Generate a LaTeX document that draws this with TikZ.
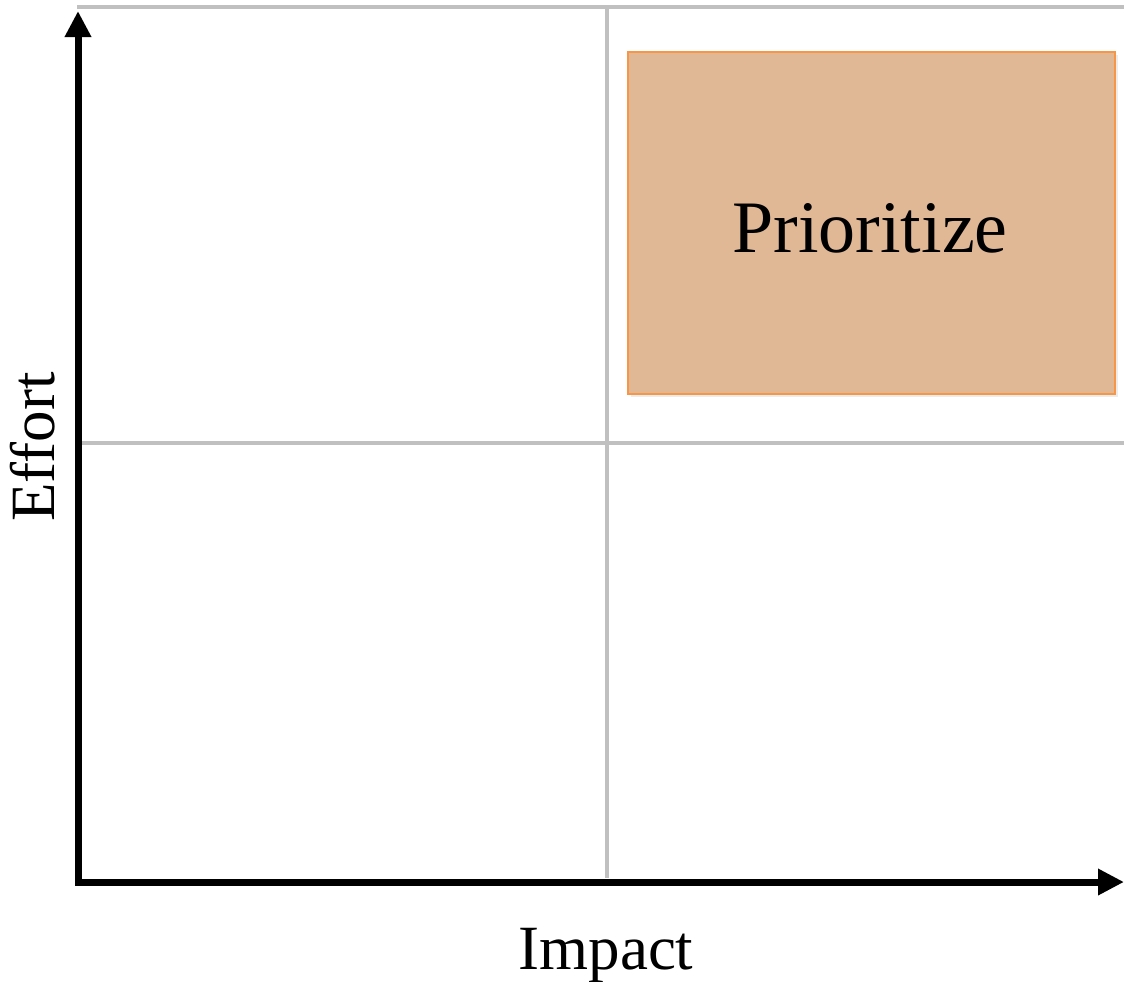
\documentclass[tikz,border=0pt]{standalone}
\usepackage{fontspec}
\setmainfont{Liberation Serif}
\usetikzlibrary{arrows.meta,shadows}

\definecolor{gridgray}{RGB}{192,192,192}
\definecolor{boxfill}{RGB}{225,184,150}
\definecolor{boxline}{RGB}{247,150,70}

\tikzset{
	gridline/.style={draw=gridgray, line width=2pt},
	axis/.style={draw=black, line width=3.5pt, -{Triangle[length=13pt, width=12.5pt]}},
	axislabel/.style={font=\fontsize{31.5}{36}\selectfont},
	quadbox/.style={draw=boxline, fill=boxfill, line width=0.8pt, minimum width=243.5pt, minimum height=171pt, anchor=north west, inner sep=0pt,
		drop shadow={opacity=0.15, shadow xshift=1.5pt, shadow yshift=-1.5pt}}
}

\begin{document}
\begin{tikzpicture}[x=0.5pt, y=-0.5pt]
	\useasboundingbox (0,0) rectangle (1124,981);
	% quadrant grid
	\coordinate (topleft) at (77,7);
	\coordinate (topright) at (1124,7);
	\coordinate (midtop) at (607,7);
	\coordinate (midbottom) at (607,878);
	\coordinate (midleft) at (80,443);
	\coordinate (midright) at (1124,443);
	\draw [gridline] (topleft) -- (topright);
	\draw [gridline] (midtop) -- (midbottom);
	\draw [gridline] (midleft) -- (midright);
	% highlighted quadrant
	\node [quadbox] (prio) at (627,51) {};
	\node [font=\fontsize{37}{42}\selectfont] (priotext) at (870,228) {Prioritize};
	% axes
	\coordinate (yfoot) at (78,885);
	\coordinate (ytip) at (78,11);
	\coordinate (xfoot) at (75,882);
	\coordinate (xtip) at (1124,882);
	\draw [axis] (yfoot) -- (ytip);
	\draw [axis] (xfoot) -- (xtip);
	\node [axislabel, rotate=90] (effort) at (33,447) {Effort};
	\node [axislabel] (impact) at (606,956) {Impact};
\end{tikzpicture}
\end{document}
